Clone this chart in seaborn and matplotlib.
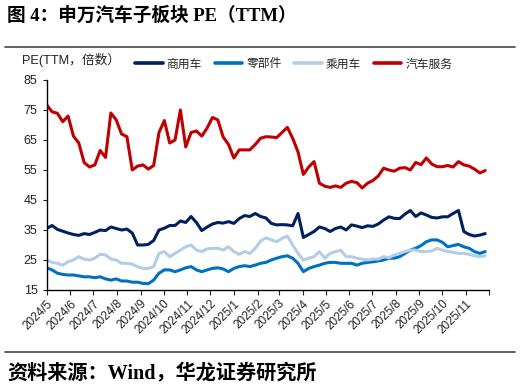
import numpy as np
import pandas as pd
import matplotlib
matplotlib.use("Agg")
import matplotlib.pyplot as plt
from matplotlib.lines import Line2D
import seaborn as sns

# ---------------- data (weekly readings) ----------------
start_date = "2024-05-01"
n_weeks = 83

commercial = [35.5, 36.5, 35.2, 34.6, 34.0, 33.5, 33.2, 33.8, 33.5, 34.2,
              35.0, 34.8, 36.0, 35.5, 35.0, 35.3, 34.0, 30.0, 30.0, 30.2,
              31.5, 35.0, 35.6, 36.5, 36.5, 38.0, 37.5, 39.5, 37.5, 34.8,
              36.0, 37.0, 37.5, 37.3, 37.8, 37.2, 38.8, 39.8, 39.5, 40.5,
              39.5, 39.0, 37.2, 36.7, 36.8, 36.7, 36.4, 40.5, 32.5, 33.5,
              34.5, 36.0, 35.5, 34.5, 35.5, 36.0, 35.0, 36.7, 36.3, 35.8,
              36.4, 36.2, 37.0, 38.3, 39.4, 38.9, 38.8, 40.3, 41.5, 39.5,
              40.7, 40.0, 39.2, 39.0, 39.4, 39.4, 40.5, 41.5, 34.5, 33.5,
              33.0, 33.3, 33.8]

parts = [22.4, 21.7, 20.6, 20.2, 20.0, 20.0, 19.7, 19.4, 19.4, 19.1,
         19.4, 18.7, 18.3, 18.7, 18.0, 18.0, 17.6, 17.6, 17.2, 17.1,
         18.3, 20.6, 21.7, 21.7, 21.1, 21.7, 22.4, 22.8, 21.7, 21.1,
         21.7, 22.2, 22.4, 22.0, 21.1, 22.2, 22.8, 23.1, 22.8, 23.3,
         23.9, 24.2, 25.0, 25.6, 26.1, 26.4, 25.6, 23.9, 21.1, 22.2,
         22.8, 23.3, 23.9, 24.2, 24.2, 23.9, 23.9, 23.9, 23.3, 23.9,
         24.2, 24.4, 24.7, 25.0, 25.6, 25.6, 26.1, 27.2, 28.3, 28.9,
         29.8, 31.1, 31.7, 31.7, 30.9, 29.4, 29.8, 30.2, 29.4, 28.9,
         27.8, 27.2, 27.8]

passenger = [25.0, 24.2, 23.9, 23.3, 24.4, 25.0, 26.1, 25.3, 25.0, 25.6,
             26.9, 26.7, 25.3, 25.0, 23.9, 23.9, 23.6, 22.8, 22.2, 22.2,
             22.8, 27.2, 27.8, 26.1, 27.2, 28.3, 29.4, 30.0, 28.3, 27.8,
             28.7, 28.9, 28.9, 28.3, 29.4, 27.8, 26.9, 27.8, 27.2, 28.9,
             31.3, 32.4, 31.7, 31.1, 32.2, 33.0, 30.0, 27.2, 25.0, 25.6,
             26.1, 27.8, 25.6, 27.2, 27.8, 28.3, 26.1, 26.1, 25.6, 25.3,
             25.0, 25.3, 25.3, 26.1, 25.8, 26.7, 27.2, 27.8, 28.3, 28.3,
             27.8, 27.8, 28.0, 28.9, 28.3, 27.8, 27.6, 27.2, 27.2, 26.9,
             26.4, 26.1, 26.4]

service = [76.7, 74.4, 73.9, 71.1, 73.0, 66.3, 64.0, 57.5, 56.0, 56.7,
           61.5, 59.2, 74.0, 71.7, 67.0, 66.1, 55.0, 56.3, 56.7, 55.3,
           56.5, 67.5, 71.5, 64.0, 65.0, 75.0, 62.7, 67.5, 68.0, 66.3,
           69.0, 72.5, 71.7, 66.0, 63.5, 59.0, 61.7, 61.7, 61.7, 63.5,
           65.6, 66.1, 66.0, 65.8, 67.5, 69.2, 65.6, 61.0, 53.5, 56.0,
           57.8, 50.6, 49.6, 49.2, 49.7, 49.2, 50.6, 51.2, 50.8, 49.0,
           50.6, 51.5, 53.0, 55.6, 55.0, 54.6, 55.6, 55.8, 55.0, 57.5,
           56.8, 59.0, 57.0, 56.1, 56.1, 56.5, 56.0, 57.8, 56.7, 56.3,
           55.3, 54.0, 54.8]

series_names = ["商用车", "零部件", "乘用车", "汽车服务"]
series_colors = ["#002060", "#0070C0", "#B4CDE6", "#C00000"]

tick_months = pd.date_range("2024-05-01", "2025-12-01", freq="MS")
tick_labels = [f"{d.year}/{d.month}" for d in tick_months[:-1]] + [""]
y_ticks = [15, 25, 35, 45, 55, 65, 75, 85]

# ---------------- build table ----------------
dates = pd.date_range(start_date, periods=n_weeks, freq="7D")
frames = []
for name, vals in zip(series_names, [commercial, parts, passenger, service]):
    frames.append(pd.DataFrame({"date": dates, "value": vals, "series": name}))
df = pd.concat(frames, ignore_index=True)

# ---------------- style ----------------
sns.set_theme(style="white")
plt.rcParams["font.family"] = ["Liberation Sans", "Noto Sans CJK SC"]
plt.rcParams["axes.unicode_minus"] = False

fig = plt.figure(figsize=(5.2, 3.92), dpi=100)
ax = fig.add_axes([46.7 / 520, 1 - 290 / 392, (489 - 46.7) / 520, 210 / 392])

sns.lineplot(data=df, x="date", y="value", hue="series",
             hue_order=series_names, palette=series_colors,
             linewidth=2.2, ax=ax, legend=False)

ax.set_ylim(15, 85)
ax.set_yticks(y_ticks)
ax.set_xlim(tick_months[0], tick_months[-1])
ax.set_xticks(tick_months)
ax.set_xticklabels(tick_labels, rotation=45, ha="right", rotation_mode="anchor",
                   fontsize=8.5, color="#222222")
ax.tick_params(axis="y", labelsize=9, colors="#222222", length=3, width=0.8,
               direction="out", left=True)
ax.tick_params(axis="x", length=3.5, width=0.8, direction="out", bottom=True,
               pad=2)
ax.set_xlabel("")
ax.set_ylabel("")
for s in ["top", "right"]:
    ax.spines[s].set_visible(False)
for s in ["left", "bottom"]:
    ax.spines[s].set_color("black")
    ax.spines[s].set_linewidth(1.0)
ax.grid(False)

# legend
handles = [Line2D([0], [0], color=c, lw=2.6) for c in series_colors]
fig.legend(handles, series_names, loc="center", ncol=4,
           bbox_to_anchor=(0.565, 1 - 64 / 392), frameon=False,
           handlelength=2.3, columnspacing=1.1,
           handletextpad=0.35, prop={"family": ["Noto Sans CJK SC"], "size": 8.5})

# axis unit label
fig.text(22 / 520, 1 - 60 / 392, "PE(TTM，倍数）", fontsize=9.2,
         va="center", ha="left", color="#222222",
         family=["Liberation Sans", "Noto Sans CJK SC"])

# title & source
fig.text(7 / 520, 1 - 16 / 392, "图 4：申万汽车子板块 PE（TTM）", fontsize=13.4,
         fontweight="bold", va="center", ha="left", color="black",
         family=["Liberation Serif", "Noto Sans CJK SC"])
fig.add_artist(Line2D([5 / 520, 515 / 520], [1 - 47 / 392, 1 - 47 / 392],
                      transform=fig.transFigure, color="#555555", lw=1.3))
fig.add_artist(Line2D([5 / 520, 515 / 520], [1 - 351.5 / 392, 1 - 351.5 / 392],
                      transform=fig.transFigure, color="#555555", lw=1.3))
fig.text(7 / 520, 1 - 373 / 392, "资料来源：Wind，华龙证券研究所", fontsize=14.5,
         fontweight="bold", va="center", ha="left", color="black",
         family=["Liberation Serif", "Noto Sans CJK SC"])

fig.savefig("out.png", dpi=100)
